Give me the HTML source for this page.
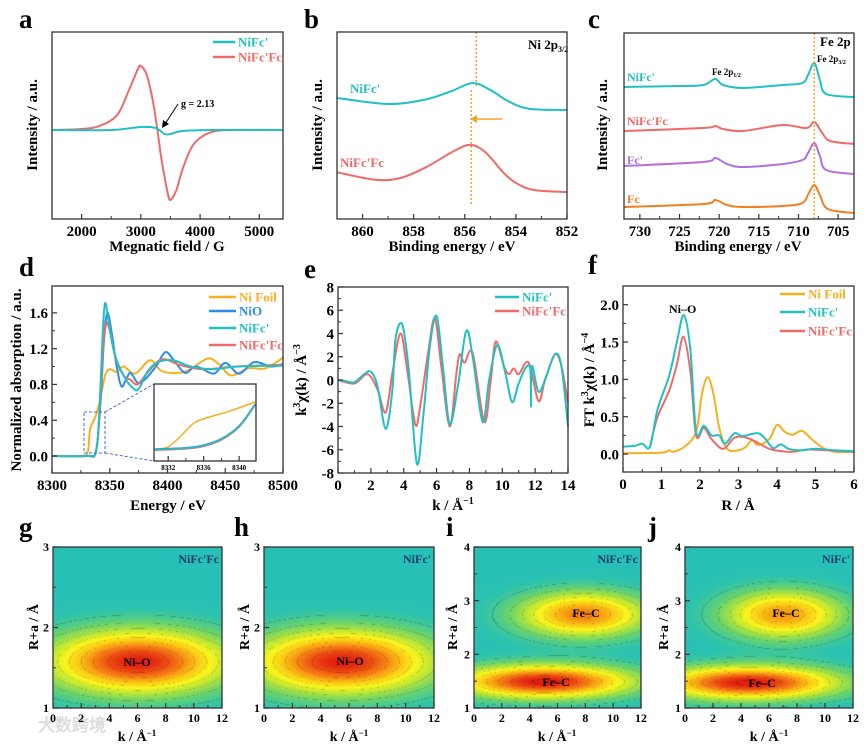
<!DOCTYPE html>
<html><head><meta charset="utf-8">
<style>
html,body{margin:0;padding:0;background:#fff;}
#wrap{position:relative;width:864px;height:746px;overflow:hidden;}
canvas{position:absolute;}
svg{position:absolute;left:0;top:0;}
text{font-family:"Liberation Serif",serif;font-weight:bold;}
</style></head>
<body>
<div id="wrap">
<canvas id="hg"></canvas>
<canvas id="hh"></canvas>
<canvas id="hi"></canvas>
<canvas id="hj"></canvas>
<svg id="fig" width="864" height="746" viewBox="0 0 864 746">
<g font-size="27" fill="#000">
<text x="19" y="28">a</text>
<text x="304" y="28">b</text>
<text x="588" y="28">c</text>
<text x="19" y="276">d</text>
<text x="304" y="278">e</text>
<text x="588" y="274">f</text>
<text x="19" y="536">g</text>
<text x="234" y="536">h</text>
<text x="446" y="536">i</text>
<text x="648" y="536">j</text>
</g>
<g font-size="15" fill="#000" text-anchor="middle">
<text x="167" y="251">Megnatic field / G</text>
<text x="452" y="251">Binding energy / eV</text>
<text x="738" y="251">Binding energy / eV</text>
<text transform="translate(37,125) rotate(-90)">Intensity / a.u.</text>
<text transform="translate(322,125) rotate(-90)">Intensity / a.u.</text>
<text transform="translate(607,125) rotate(-90)">Intensity / a.u.</text>
<text x="168" y="510">Energy / eV</text>
<text x="453" y="510">k / Å<tspan font-size="10" dy="-6">−1</tspan></text>
<text x="738" y="510">R / Å</text>
<text transform="translate(21,380) rotate(-90)">Normalized absorption / a.u.</text>
<text transform="translate(306,380) rotate(-90)">k<tspan font-size="10" dy="-6">3</tspan><tspan dy="6">χ(k) / Å</tspan><tspan font-size="10" dy="-6">−3</tspan></text>
<text transform="translate(594,380) rotate(-90)">FT k<tspan font-size="10" dy="-6">3</tspan><tspan dy="6">χ(k) / Å</tspan><tspan font-size="10" dy="-6">−4</tspan></text>
<text x="137" y="741" font-size="14">k / Å<tspan font-size="9" dy="-5">−1</tspan></text>
<text x="349" y="741" font-size="14">k / Å<tspan font-size="9" dy="-5">−1</tspan></text>
<text x="557" y="741" font-size="14">k / Å<tspan font-size="9" dy="-5">−1</tspan></text>
<text x="769" y="741" font-size="14">k / Å<tspan font-size="9" dy="-5">−1</tspan></text>
<text transform="translate(38,627) rotate(-90)" font-size="14">R+a / Å</text>
<text transform="translate(249,627) rotate(-90)" font-size="14">R+a / Å</text>
<text transform="translate(457,627) rotate(-90)" font-size="14">R+a / Å</text>
<text transform="translate(668,627) rotate(-90)" font-size="14">R+a / Å</text>
</g>
<g font-size="12">
<text x="181" y="107" font-size="10">g = 2.13</text>
<line x1="178" y1="104" x2="165" y2="124" stroke="#000" stroke-width="1"/>
<polygon points="162,128 163,120 169,124" fill="#000"/>
<text x="528" y="49" font-size="13">Ni 2p<tspan font-size="8" dy="3">3/2</tspan></text>
<text x="350" y="93" fill="#22bfc3" font-size="13">NiFc'</text>
<text x="340" y="167" fill="#ee6666" font-size="13">NiFc'Fc</text>
<text x="820" y="46" font-size="13">Fe 2p</text>
<text x="817" y="62" font-size="9">Fe 2p<tspan font-size="6" dy="2">3/2</tspan></text>
<text x="712" y="75" font-size="9">Fe 2p<tspan font-size="6" dy="2">1/2</tspan></text>
<text x="627" y="81" fill="#22bfc3" font-size="12">NiFc'</text>
<text x="627" y="125" fill="#ee6666" font-size="12">NiFc'Fc</text>
<text x="627" y="164" fill="#b070e0" font-size="12">Fc'</text>
<text x="627" y="203" fill="#f08020" font-size="12">Fc</text>
<text x="669" y="313" font-size="12">Ni–O</text>
<text x="137" y="666" text-anchor="middle">Ni–O</text>
<text x="350" y="665" text-anchor="middle">Ni–O</text>
<text x="586" y="617" text-anchor="middle">Fe–C</text>
<text x="556" y="686" text-anchor="middle">Fe–C</text>
<text x="786" y="617" text-anchor="middle">Fe–C</text>
<text x="762" y="687" text-anchor="middle">Fe–C</text>
<text x="219" y="563" text-anchor="end" fill="#1a3a6a">NiFc'Fc</text>
<text x="431" y="563" text-anchor="end" fill="#1a3a6a">NiFc'</text>
<text x="638" y="563" text-anchor="end" fill="#1a3a6a">NiFc'Fc</text>
<text x="850" y="563" text-anchor="end" fill="#1a3a6a">NiFc'</text>
<text x="38" y="731" font-size="17" fill="#ddd" font-family="'Liberation Sans','Noto Sans CJK SC',sans-serif">大数跨境</text>
</g>
<g id="marks"></g>
</svg>
</div>
<script>
// ---------- data ----------
const aRed=[[1500,0],[2000,1],[2300,4],[2600,15],[2800,40],[2950,61],[3000,64],[3100,55],[3200,30],[3280,0],[3350,-30],[3450,-62],[3500,-70],[3600,-60],[3700,-40],[3850,-18],[4000,-8],[4200,-2],[4500,0],[5400,0]];
const aTeal=[[1500,0],[2500,0],[3000,3],[3250,2],[3400,-4],[3500,-4],[3700,-1],[4200,0],[5400,0]];
const bTeal=[[861,64.7],[859,61.5],[857.5,64],[856.5,68.5],[855.7,72.7],[855,69],[854.3,63],[853.5,59],[852,58.3]];
const bRed=[[861,25],[859.5,21],[858.5,22],[857.5,27.8],[856.5,35.8],[855.8,39.6],[855.2,35.8],[854.5,25],[854,19.3],[853.3,15.5],[852,14.4]];
const cNiFc=[[732,132],[725,133],[722,134],[720.5,140],[719.5,134],[717,131],[712,134],[709.5,136],[708.8,144],[708,156],[707.3,139],[706.5,125],[703,122]];
const cNiFcFc=[[732,88],[722,91],[720.5,93],[719.5,90],[717,88],[712,94],[709,91],[708,97],[707,86],[706,78],[703,75]];
const cFc1=[[732,53],[722,57],[720.5,61],[719,55],[717,52],[712,55],[709.5,59],[708.8,66],[708,76],[707.3,63],[706.5,49],[703,45]];
const cFc=[[732,12],[722,15],[720.5,19],[719,14],[717,12],[712,13],[709.5,16],[708.7,26],[708,34],[707.3,24],[706.3,10],[703,6]];
const dFoil=[[8300,0],[8325,0],[8331,0.05],[8333,0.3],[8338,0.45],[8342,0.65],[8346,0.9],[8350,0.97],[8356,0.94],[8362,1.0],[8372,0.92],[8385,1.07],[8395,0.95],[8410,0.93],[8420,0.97],[8435,1.09],[8445,1.02],[8455,0.9],[8470,0.98],[8485,0.98],[8500,1.1]];
const dNiO=[[8300,0],[8330,0],[8338,0.05],[8342,0.6],[8345,1.3],[8348,1.6],[8352,1.35],[8356,1.0],[8360,0.78],[8364,0.85],[8368,0.93],[8374,0.82],[8380,0.85],[8390,1.0],[8398,1.16],[8405,1.08],[8415,0.93],[8425,1.0],[8440,0.92],[8450,1.04],[8462,0.92],[8475,1.05],[8490,1.0],[8500,1.03]];
const dNiFc=[[8300,0],[8330,0],[8338,0.05],[8341,0.5],[8344,1.4],[8346,1.71],[8349,1.5],[8354,1.15],[8362,0.9],[8370,0.76],[8375,0.75],[8383,0.95],[8392,1.05],[8405,1.07],[8420,1.0],[8440,0.97],[8460,1.0],[8500,1.01]];
const dNiFcFc=[[8300,0],[8330,0],[8338,0.05],[8341,0.45],[8344,1.15],[8347,1.48],[8350,1.4],[8355,1.1],[8362,0.9],[8368,0.85],[8374,0.8],[8382,0.92],[8395,1.08],[8410,1.02],[8430,0.97],[8460,1.0],[8500,1.02]];
const insetFoil=[[8330.5,0.09],[8332,0.11],[8333.5,0.2],[8335,0.3],[8337,0.35],[8339,0.39],[8341.8,0.46]];
const insetOther=[[8330.5,0.09],[8334,0.1],[8336,0.12],[8338,0.17],[8340,0.27],[8341.8,0.44]];
const eTeal=[[0,0],[0.5,-0.1],[1,-0.2],[1.6,0.5],[2,0.7],[2.4,-0.5],[2.9,-4.2],[3.3,-1],[3.5,3.5],[3.9,4.8],[4.3,1],[4.8,-7.2],[5.2,-3],[5.6,3],[6,5.5],[6.4,1],[6.8,-3.8],[7.3,-0.5],[7.8,4.2],[8.2,2],[8.8,-3.6],[9.2,0],[9.7,3.0],[10.2,0.5],[10.6,-1.9],[11,-0.3],[11.4,1.0],[11.7,1.0],[11.75,-2.3],[11.8,1.2],[12.2,-1],[12.6,0],[13.2,2.2],[13.6,1.2],[14,-4]];
const eRed=[[0,0],[1,-0.3],[1.8,0.5],[2.4,-0.8],[2.9,-2.8],[3.3,0.5],[3.8,4],[4.2,1],[4.7,-3.8],[5,-2.3],[5.5,2.5],[5.9,5.3],[6.3,1],[6.8,-4],[7.2,0.5],[7.4,2.2],[7.7,1.5],[8.2,2.3],[8.9,-3.6],[9.3,0],[9.6,3.3],[10.1,1.2],[10.4,0.5],[10.7,1.0],[11,0.5],[11.6,1.5],[12.2,-1.8],[12.6,0],[13.2,2.2],[13.6,1.2],[14,-2]];
const fFoil=[[0,0.01],[1,0.02],[1.2,0.05],[1.3,0.03],[1.6,0.1],[1.9,0.3],[2.05,0.8],[2.2,1.03],[2.35,0.8],[2.5,0.35],[2.7,0.07],[3,0.05],[3.2,0.1],[3.35,0.19],[3.5,0.12],[3.8,0.2],[4,0.39],[4.2,0.3],[4.4,0.26],[4.65,0.31],[4.9,0.2],[5.2,0.08],[5.5,0.03],[6,0.03]];
const fNiFc=[[0,0.1],[0.3,0.11],[0.5,0.14],[0.7,0.1],[0.9,0.6],[1.2,1.05],[1.4,1.5],[1.58,1.86],[1.75,1.4],[1.9,0.3],[2.1,0.38],[2.3,0.25],[2.5,0.25],[2.65,0.14],[2.9,0.28],[3.1,0.24],[3.5,0.28],[3.7,0.2],[3.9,0.08],[4.1,0.13],[4.3,0.07],[4.6,0.05],[5,0.07],[5.5,0.05],[6,0.04]];
const fNiFcFc=[[0.7,0.1],[0.9,0.5],[1.2,0.85],[1.4,1.2],[1.57,1.57],[1.75,1.1],[1.9,0.25],[2.1,0.35],[2.3,0.2],[2.6,0.07],[2.9,0.22],[3.2,0.22],[3.5,0.15],[3.8,0.07],[4.1,0.04],[4.4,0.03],[4.8,0.06],[5.3,0.05],[6,0.03]];
// heatmap peaks: [k0, R0, sigmaK, sigmaR, amplitude]
const gPeaks=[[6,1.58,4.5,0.28,0.9]];
const hPeaks=[[5.5,1.58,4.5,0.28,0.9]];
const iPeaks=[[5,1.5,4.5,0.22,0.92],[7.8,2.75,3.3,0.3,0.72]];
const jPeaks=[[4.5,1.48,4.5,0.22,0.92],[7,2.75,3.0,0.32,0.68]];
const xTicksA=[2000,3000,4000,5000], xTicksB=[860,858,856,854,852], xTicksC=[730,725,720,715,710,705];
const xTicksD=[8300,8350,8400,8450,8500], yTicksD=[0,0.4,0.8,1.2,1.6];
const xTicksE=[0,2,4,6,8,10,12,14], yTicksE=[-8,-6,-4,-2,0,2,4,6,8];
const xTicksF=[0,1,2,3,4,5,6], yTicksF=[0,0.5,1,1.5,2];
const xTicksK=[0,2,4,6,8,10,12], yTicks3=[1,2,3], yTicks4=[1,2,3,4];
const insetTicks=[8332,8336,8340];

// ---------- helpers ----------
const NS="http://www.w3.org/2000/svg";
const root=document.getElementById('marks');
function mk(tag,attrs,parent){const e=document.createElementNS(NS,tag);for(const k in attrs)e.setAttribute(k,attrs[k]);(parent||root).appendChild(e);return e;}
function scale(d0,d1,p0,p1){return v=>p0+(v-d0)/(d1-d0)*(p1-p0);}
function pathD(pts,sx,sy){
  const P=pts.map(p=>[sx(p[0]),sy(p[1])]);
  let d="M"+P[0][0].toFixed(1)+","+P[0][1].toFixed(1);
  for(let i=0;i<P.length-1;i++){
    const p0=P[i-1]||P[i],p1=P[i],p2=P[i+1],p3=P[i+2]||P[i+1];
    const c1=[p1[0]+(p2[0]-p0[0])/6,p1[1]+(p2[1]-p0[1])/6];
    const c2=[p2[0]-(p3[0]-p1[0])/6,p2[1]-(p3[1]-p1[1])/6];
    d+=" C"+c1[0].toFixed(1)+","+c1[1].toFixed(1)+" "+c2[0].toFixed(1)+","+c2[1].toFixed(1)+" "+p2[0].toFixed(1)+","+p2[1].toFixed(1);
  }
  return d;
}
function series(name,pts,sx,sy,color,w){
  const p=mk('path',{d:pathD(pts,sx,sy),fill:'none',stroke:color,'stroke-width':w||2,'stroke-linejoin':'round'});
  
  
  return p;
}
function frame(name,b){
  const r=mk('rect',{x:b[0],y:b[1],width:b[2]-b[0],height:b[3]-b[1],fill:'none',stroke:'#333','stroke-width':1.3});
  
  
}
function xticks(prefix,b,ticks,sx,fs,dy,fmt){
  for(let i=0;i<ticks.length;i++){
    const x=sx(ticks[i]);
    const t=mk('line',{x1:x,x2:x,y1:b[3],y2:b[3]-5,stroke:'#333','stroke-width':1.2});
    
    
    if(i<ticks.length-1){const xm=(x+sx(ticks[i+1]))/2;
      const m=mk('line',{x1:xm,x2:xm,y1:b[3],y2:b[3]-3,stroke:'#333','stroke-width':1});
      
      }
    const l=mk('text',{x:x,y:b[3]+dy,'text-anchor':'middle','font-size':fs});
    l.textContent=fmt?fmt(ticks[i]):ticks[i];
    
    
  }
}
function yticks(prefix,b,ticks,sy,fs,fmt){
  for(let i=0;i<ticks.length;i++){
    const y=sy(ticks[i]);
    const t=mk('line',{x1:b[0],x2:b[0]+5,y1:y,y2:y,stroke:'#333','stroke-width':1.2});
    
    
    if(i<ticks.length-1){const ym=(y+sy(ticks[i+1]))/2;
      const m=mk('line',{x1:b[0],x2:b[0]+3,y1:ym,y2:ym,stroke:'#333','stroke-width':1});
      
      }
    const l=mk('text',{x:b[0]-4,y:y+fs*0.35,'text-anchor':'end','font-size':fs});
    l.textContent=fmt?fmt(ticks[i]):ticks[i];
    
    
  }
}
function legend(prefix,x0,x1,entries){
  entries.forEach(e=>{
    const l=mk('line',{x1:x0,x2:x1,y1:e[2],y2:e[2],stroke:e[1],'stroke-width':2.5});
    
    
    const t=mk('text',{x:x1+3,y:e[2]+4.5,'font-size':13,fill:e[1]});
    t.textContent=e[0];
    
    
  });
}
const TEAL='#22c0c3',RED='#f06a6a',ORG='#f5b020',BLUE='#2a8ee8',PUR='#b070e0',ORG2='#f08020';

// ---------- panel a ----------
{const b=[52,32,283,219];const sx=scale(1500,5400,b[0],b[2]),sy=scale(-89,98,b[3],b[1]);
 series('a-nifcfc-line',aRed,sx,sy,RED);series('a-nifc-line',aTeal,sx,sy,TEAL);
 frame('a-plot-frame',b);xticks('a',b,xTicksA,sx,15,17);
 legend('a',213,235,[["NiFc'",TEAL,42],["NiFc'Fc",RED,57]]);}
// ---------- panel b ----------
{const b=[337,32,567,219];const sx=scale(861,852,b[0],b[2]),sy=scale(0,100,b[3],b[1]);
 series('b-nifc-line',bTeal,sx,sy,TEAL);series('b-nifcfc-line',bRed,sx,sy,RED);
 const v1=mk('line',{x1:sx(855.55),x2:sx(855.55),y1:b[1],y2:86,stroke:'#f5a623','stroke-width':1.5,'stroke-dasharray':'2,2'});
 
 const v2=mk('line',{x1:sx(855.75),x2:sx(855.75),y1:90,y2:206,stroke:'#f5a623','stroke-width':1.5,'stroke-dasharray':'2,2'});
 
 const ar=mk('line',{x1:502,x2:474,y1:119,y2:119,stroke:'#f5a623','stroke-width':1.5});
 
 const ah=mk('polygon',{points:'470,119 477,115 477,123',fill:'#f5a623'});
 
 frame('b-plot-frame',b);xticks('b',b,xTicksB,sx,15,17);}
// ---------- panel c ----------
{const b=[624,33,854,219];const sx=scale(732,703,b[0],b[2]),sy=scale(0,186,b[3],b[1]);
 series('c-nifc-line',cNiFc,sx,sy,TEAL);series('c-nifcfc-line',cNiFcFc,sx,sy,RED);
 series('c-fc1-line',cFc1,sx,sy,PUR);series('c-fc-line',cFc,sx,sy,ORG2);
 const v=mk('line',{x1:sx(708),x2:sx(708),y1:b[1],y2:b[3],stroke:'#f5a623','stroke-width':1.5,'stroke-dasharray':'2,2'});
 
 frame('c-plot-frame',b);xticks('c',b,xTicksC,sx,15,17);}
// ---------- panel d ----------
{const b=[52,286,283,473];const sx=scale(8300,8500,b[0],b[2]),sy=scale(-0.19,1.9,b[3],b[1]);
 series('d-foil-line',dFoil,sx,sy,ORG);series('d-nio-line',dNiO,sx,sy,BLUE);
 series('d-nifcfc-line',dNiFcFc,sx,sy,RED);series('d-nifc-line',dNiFc,sx,sy,TEAL);
 const ib=[154,384,256,461];
 const zr=mk('rect',{x:84,y:412,width:21,height:41,fill:'none',stroke:'#4a6ed0','stroke-width':1,'stroke-dasharray':'3,2'});
 
 const c1=mk('line',{x1:105,y1:412,x2:ib[0],y2:ib[1],stroke:'#4a6ed0','stroke-width':1,'stroke-dasharray':'3,2'});
 
 const c2=mk('line',{x1:105,y1:453,x2:ib[0],y2:ib[3],stroke:'#4a6ed0','stroke-width':1,'stroke-dasharray':'3,2'});
 
 const ibg=mk('rect',{x:ib[0],y:ib[1],width:ib[2]-ib[0],height:ib[3]-ib[1],fill:'#fff',stroke:'none'});
 
 const isx=scale(8330.4,8341.9,ib[0],ib[2]),isy=scale(0,0.6,ib[3],ib[1]);
 series('d-inset-foil-line',insetFoil,isx,isy,ORG,1.5);
 series('d-inset-nio-line',insetOther.map(p=>[p[0],p[1]+0.004]),isx,isy,BLUE,1.5);
 series('d-inset-nifcfc-line',insetOther.map(p=>[p[0],p[1]-0.006]),isx,isy,RED,1.5);
 series('d-inset-nifc-line',insetOther,isx,isy,TEAL,1.5);
 frame('d-inset-frame',ib);xticks('d-inset',ib,insetTicks,isx,7,9);
 frame('d-plot-frame',b);xticks('d',b,xTicksD,sx,15,17);yticks('d',b,yTicksD,sy,15,v=>v.toFixed(1));
 legend('d',209,236,[["Ni Foil",ORG,297],["NiO",BLUE,311],["NiFc'",TEAL,328],["NiFc'Fc",RED,345]]);}
// ---------- panel e ----------
{const b=[338,287,568,473];const sx=scale(0,14,b[0],b[2]),sy=scale(-8,8,b[3],b[1]);
 series('e-nifcfc-line',eRed,sx,sy,RED);series('e-nifc-line',eTeal,sx,sy,TEAL);
 frame('e-plot-frame',b);xticks('e',b,xTicksE,sx,15,17);yticks('e',b,yTicksE,sy,15);
 legend('e',495,519,[["NiFc'",TEAL,297],["NiFc'Fc",RED,311]]);}
// ---------- panel f ----------
{const b=[623,286,854,472];const sx=scale(0,6,b[0],b[2]),sy=scale(-0.24,2.25,b[3],b[1]);
 series('f-foil-line',fFoil,sx,sy,ORG);series('f-nifcfc-line',fNiFcFc,sx,sy,RED);series('f-nifc-line',fNiFc,sx,sy,TEAL);
 frame('f-plot-frame',b);xticks('f',b,xTicksF,sx,15,17);yticks('f',b,yTicksF,sy,15,v=>v.toFixed(1));
 legend('f',780,805,[["Ni Foil",ORG,294],["NiFc'",TEAL,312],["NiFc'Fc",RED,331]]);}
// ---------- heatmaps ----------
const cmap=[[0,[25,185,200]],[0.15,[45,195,175]],[0.3,[110,212,105]],[0.45,[195,232,50]],[0.56,[250,245,30]],[0.7,[250,190,20]],[0.83,[245,120,20]],[1,[225,30,15]]];
function col(v){v=Math.max(0,Math.min(1,v));for(let i=1;i<cmap.length;i++){if(v<=cmap[i][0]){const a=cmap[i-1],c=cmap[i],t=(v-a[0])/(c[0]-a[0]);return a[1].map((x,j)=>x+(c[1][j]-x)*t);}}return cmap[cmap.length-1][1];}
function heat(id,b,Rmax,peaks,prefix){
  const cv=document.getElementById(id);const W=b[2]-b[0],H=b[3]-b[1];
  cv.width=W;cv.height=H;cv.style.left=b[0]+'px';cv.style.top=b[1]+'px';
  const ctx=cv.getContext('2d');const img=ctx.createImageData(W,H);
  for(let py=0;py<H;py++){const R=Rmax-(py/H)*(Rmax-1);
    for(let px=0;px<W;px++){const k=px/W*12;let v=0.1;
      peaks.forEach(p=>{v+=p[4]*Math.exp(-0.5*((k-p[0])/p[2])**2-0.5*((R-p[1])/p[3])**2);});
      let c=col(v);const f=(v*10)%1;if(v>0.2&&(f<0.05))c=c.map(x=>x*0.8);
      const o=(py*W+px)*4;img.data[o]=c[0];img.data[o+1]=c[1];img.data[o+2]=c[2];img.data[o+3]=255;}}
  ctx.putImageData(img,0,0);
  const sx=scale(0,12,b[0],b[2]),sy=scale(1,Rmax,b[3],b[1]);
  frame(prefix+'-plot-frame',b);
  xticks(prefix,b,xTicksK,sx,12,14);
  yticks(prefix,b,Rmax===3?yTicks3:yTicks4,sy,12);
}
heat('hg',[53,547,222,708],3,gPeaks,'g');
heat('hh',[264,547,434,708],3,hPeaks,'h');
heat('hi',[474,547,641,708],4,iPeaks,'i');
heat('hj',[685,547,853,708],4,jPeaks,'j');
</script>
</body></html>
